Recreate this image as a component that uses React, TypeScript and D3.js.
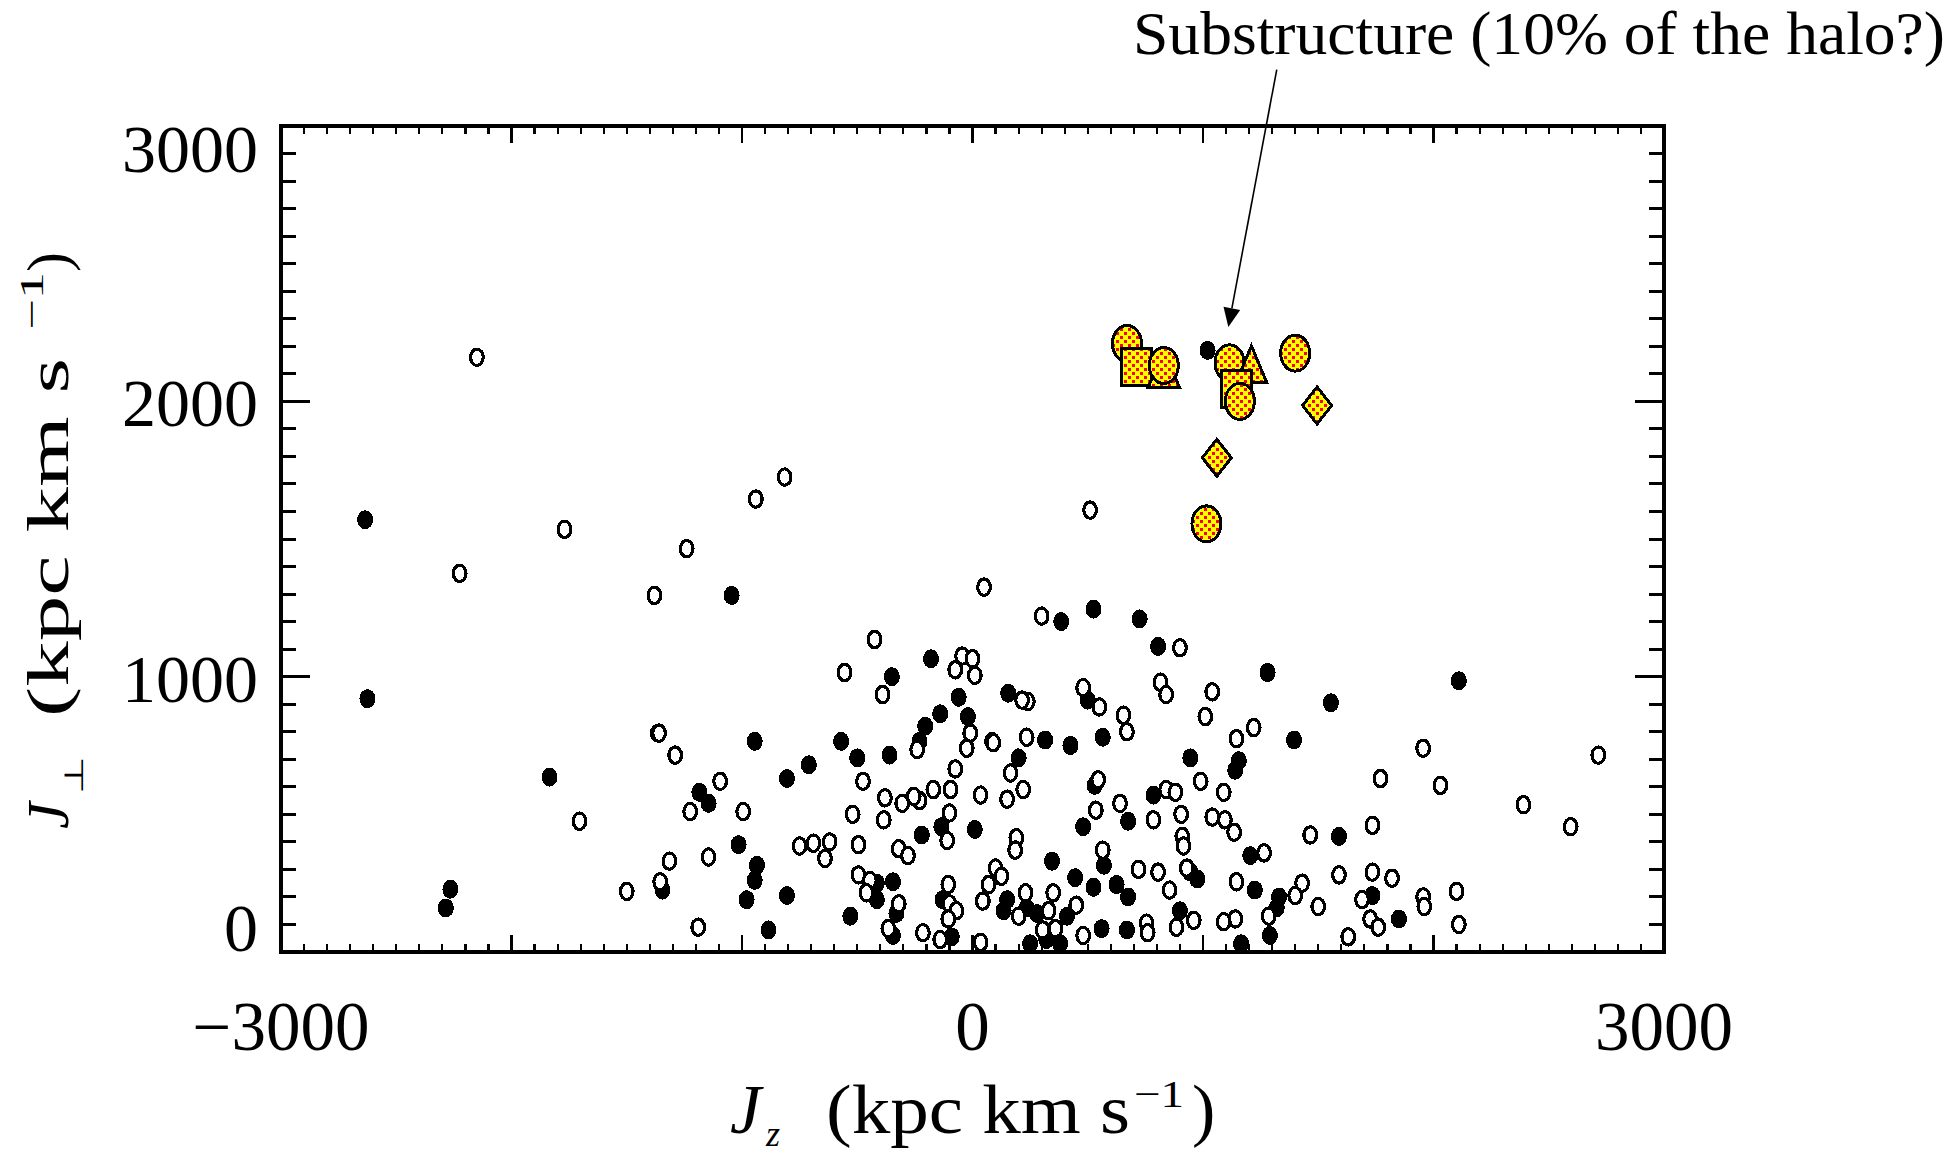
import React from "react";
import * as d3 from "d3";

// Halo stars in angular-momentum space: [Jz, J_perp] in kpc km/s.
// Filled symbols.
const filledStars: [number, number][] = [
  [-1045, 1295], [-2625, 920], [-1365, 795], [-1835, 635], [-1185, 580], [-1145, 540],
  [-1345, 225], [-2265, 228], [-2285, 160], [-2635, 1570], [-1015, 390],
  [385, 1200], [525, 1245], [725, 1210], [805, 1110], [-180, 1065], [-350, 1000],
  [500, 915], [155, 940], [-60, 925], [-20, 855], [-140, 865], [-205, 820], [-230, 765],
  [565, 780], [425, 750], [315, 770], [85, 765], [-945, 765], [-570, 765], [-500, 705],
  [-360, 715], [-710, 680], [-805, 630], [200, 705], [945, 705], [530, 605], [480, 455],
  [675, 475], [785, 570], [-135, 455], [-220, 425], [10, 445], [945, 290], [-935, 315],
  [-945, 260], [-980, 190], [-805, 205], [-415, 250], [-345, 255], [-415, 190], [-330, 140],
  [-530, 130], [-885, 80], [-345, 60], [-130, 190], [-90, 55], [150, 190], [135, 150],
  [235, 160], [280, 140], [410, 130], [345, 330], [445, 270], [525, 235], [570, 315],
  [625, 245], [675, 200], [900, 150], [670, 80], [560, 85], [250, 30], [320, 45], [380, 30],
  [975, 265], [1280, 1015], [2110, 985], [1555, 905], [1395, 770], [1155, 695], [1140, 660],
  [1590, 420], [1205, 350], [1225, 225], [1330, 200], [1320, 160], [1735, 205], [1850, 120],
  [1290, 60], [1165, 30], [1020, 2185],
];

// Open symbols.
const openStars: [number, number][] = [
  [-2150, 2160], [-2225, 1375], [-1770, 1535], [-1240, 1465], [-940, 1645], [-815, 1725],
  [510, 1605], [-1380, 1295], [50, 1325], [-1360, 795], [-1290, 715], [-1095, 620],
  [-1225, 510], [-995, 510], [-1705, 475], [-1315, 330], [-1145, 345], [-1355, 255],
  [-1500, 220], [-1190, 90], [300, 1220], [-425, 1135], [900, 1105], [-45, 1075], [0, 1065],
  [-75, 1025], [10, 1005], [-555, 1015], [-390, 935], [815, 980], [840, 935], [480, 960],
  [550, 890], [240, 910], [215, 915], [-240, 735], [655, 860], [670, 800], [1010, 855],
  [235, 780], [-10, 795], [-25, 740], [90, 760], [-75, 665], [165, 650], [220, 590],
  [150, 555], [35, 570], [-95, 590], [-170, 590], [-230, 550], [-255, 565], [-305, 540],
  [-380, 560], [-475, 620], [-385, 480], [-520, 500], [990, 620], [545, 625], [535, 515],
  [640, 540], [785, 480], [840, 590], [880, 580], [905, 500], [910, 420], [915, 385],
  [930, 305], [-100, 505], [-110, 405], [190, 415], [185, 370], [-495, 390], [-620, 400],
  [-690, 395], [-750, 385], [-640, 340], [-320, 375], [-280, 350], [-495, 280], [-445, 260],
  [-460, 215], [-320, 175], [-365, 85], [-215, 70], [-105, 245], [-100, 175], [-70, 150],
  [-105, 120], [-140, 45], [35, 35], [100, 305], [125, 275], [70, 245], [45, 185], [230, 215],
  [200, 130], [350, 215], [330, 150], [450, 170], [565, 370], [720, 300], [805, 290],
  [855, 225], [960, 115], [885, 90], [755, 105], [760, 70], [480, 60], [305, 80], [360, 85],
  [1040, 945], [1220, 815], [1145, 775], [1955, 740], [2715, 715], [1770, 630], [2030, 605],
  [1090, 580], [2390, 535], [1040, 490], [1095, 480], [1135, 435], [1735, 460], [1465, 425],
  [2595, 455], [1265, 360], [1590, 280], [1735, 290], [1820, 268], [1145, 255], [1430, 250],
  [1400, 205], [1500, 165], [2100, 220], [1955, 200], [1960, 165], [1690, 190], [1140, 120],
  [1090, 110], [1285, 130], [1630, 55], [1725, 120], [1760, 90], [2110, 100],
];

// Substructure members, in drawing order: [Jz, J_perp, symbol].
type Shape = "circle" | "square" | "triangle" | "diamond";
const substructure: [number, number, Shape][] = [
  [670, 2210, "circle"],
  [710, 2125, "square"],
  [830, 2110, "triangle"],
  [830, 2130, "circle"],
  [1115, 2140, "circle"],
  [1210, 2125, "triangle"],
  [1145, 2045, "square"],
  [1160, 2000, "circle"],
  [1400, 2175, "circle"],
  [1495, 1985, "diamond"],
  [1060, 1795, "diamond"],
  [1015, 1555, "circle"],
];

const xDomain: [number, number] = [-3000, 3000];
const yDomain: [number, number] = [0, 3000];
const xTickLabels = [-3000, 0, 3000];
const yTickLabels = [0, 1000, 2000, 3000];

const annotationText = "Substructure (10% of the halo?)";
const arrowFrom: [number, number] = [1320, 3205];
const arrowTo: [number, number] = [1110, 2270];

const SERIF = "'Liberation Serif', 'Times New Roman', serif";

export default function App() {
  const x = d3.scaleLinear().domain(xDomain).range([281, 1664]);
  const y = d3.scaleLinear().domain(yDomain).range([952, 126]);

  const [x0, x1] = x.range();
  const [yb, yt] = y.range();

  const xMinor = d3.range(xDomain[0], xDomain[1] + 1, 100);
  const yMinor = d3.range(yDomain[0], yDomain[1] + 1, 100);

  const fmt = (v: number) => (v < 0 ? "\u2212" + Math.abs(v) : String(v));

  // y labels: the end labels sit inside the frame
  const yLabelCenter = (v: number) =>
    v === yDomain[1] ? y(v) + 23 : v === yDomain[0] ? y(v) - 24 : y(v) + 2;

  const orangeShape = (d: [number, number, Shape], i: number) => {
    const cx = x(d[0]);
    const cy = y(d[1]);
    const common = {
      fill: "url(#redYellowChecker)",
      stroke: "#000",
      strokeWidth: 3,
      shapeRendering: "crispEdges" as const,
    };
    if (d[2] === "circle")
      return <ellipse key={i} cx={cx} cy={cy} rx={14.5} ry={18} {...common} />;
    if (d[2] === "square")
      return <rect key={i} x={cx - 15} y={cy - 18.5} width={30} height={37} {...common} />;
    if (d[2] === "triangle")
      return (
        <polygon
          key={i}
          points={`${cx},${cy - 21} ${cx + 15.5},${cy + 16} ${cx - 15.5},${cy + 16}`}
          {...common}
        />
      );
    return (
      <polygon
        key={i}
        points={`${cx},${cy - 18.5} ${cx + 14.5},${cy} ${cx},${cy + 18.5} ${cx - 14.5},${cy}`}
        {...common}
      />
    );
  };

  // arrow geometry
  const ax0 = x(arrowFrom[0]);
  const ay0 = y(arrowFrom[1]);
  const ax1 = x(arrowTo[0]);
  const ay1 = y(arrowTo[1]);
  const alen = Math.hypot(ax1 - ax0, ay1 - ay0);
  const ux = (ax1 - ax0) / alen;
  const uy = (ay1 - ay0) / alen;
  const headL = 19;
  const headW = 8.5;
  const bx = ax1 - ux * headL;
  const by = ay1 - uy * headL;
  const headPts = `${ax1},${ay1} ${bx - uy * headW},${by + ux * headW} ${bx + uy * headW},${by - ux * headW}`;

  return (
    <div style={{ position: "absolute", left: 0, top: 0, background: "#fff" }}>
      <svg width={1952} height={1154} style={{ display: "block", background: "#fff" }}>
        <defs>
          <pattern id="redYellowChecker" width={8} height={8} patternUnits="userSpaceOnUse">
            <rect width={8} height={8} fill="#ffff00" />
            <rect x={0} y={0} width={3} height={3} fill="#ff0000" />
            <rect x={4} y={4} width={3} height={3} fill="#ff0000" />
          </pattern>
        </defs>

        {/* ticks */}
        <g stroke="#000" shapeRendering="crispEdges">
          {xMinor.map((v) => {
            const major = v % 1000 === 0;
            const len = major ? 17 : 8;
            return (
              <g key={"xt" + v} strokeWidth={2.2}>
                <line x1={x(v)} x2={x(v)} y1={yb} y2={yb - len} />
                <line x1={x(v)} x2={x(v)} y1={yt} y2={yt + len} />
              </g>
            );
          })}
          {yMinor.map((v) => {
            const major = v % 1000 === 0;
            const len = major ? 29 : 15;
            return (
              <g key={"yt" + v} strokeWidth={3}>
                <line x1={x0} x2={x0 + len} y1={y(v)} y2={y(v)} />
                <line x1={x1} x2={x1 - len} y1={y(v)} y2={y(v)} />
              </g>
            );
          })}
        </g>

        {/* frame */}
        <rect
          x={x0}
          y={yt}
          width={x1 - x0}
          height={yb - yt}
          fill="none"
          stroke="#000"
          strokeWidth={4.5}
          shapeRendering="crispEdges"
        />

        {/* tick labels */}
        <g fontFamily={SERIF} fill="#000">
          {xTickLabels.map((v) => (
            <text key={"xl" + v} x={x(v)} y={1050} fontSize={69} textAnchor="middle">
              {fmt(v)}
            </text>
          ))}
          {yTickLabels.map((v) => (
            <text key={"yl" + v} x={258} y={yLabelCenter(v) + 23} fontSize={68} textAnchor="end">
              {fmt(v)}
            </text>
          ))}
        </g>

        {/* halo stars */}
        <g>
          {filledStars.map((d, i) => (
            <ellipse
              key={"f" + i}
              cx={x(d[0])}
              cy={y(d[1])}
              rx={8}
              ry={9.5}
              fill="#000"
              shapeRendering="crispEdges"
            />
          ))}
          {openStars.map((d, i) => (
            <ellipse
              key={"o" + i}
              cx={x(d[0])}
              cy={y(d[1])}
              rx={6.3}
              ry={8.2}
              fill="#fff"
              stroke="#000"
              strokeWidth={3.2}
              shapeRendering="crispEdges"
            />
          ))}
        </g>

        {/* substructure */}
        <g>{substructure.map(orangeShape)}</g>

        {/* annotation */}
        <line x1={ax0} y1={ay0} x2={bx} y2={by} stroke="#000" strokeWidth={1.6} />
        <polygon points={headPts} fill="#000" />
        <text
          x={1133}
          y={54}
          fontFamily={SERIF}
          fontSize={62}
          textLength={812}
          lengthAdjust="spacingAndGlyphs"
          fill="#000"
        >
          {annotationText}
        </text>

        {/* x axis title */}
        <g fontFamily={SERIF} fill="#000">
          <text x={730} y={1133} fontSize={70} fontStyle="italic">J</text>
          <text x={766} y={1146} fontSize={36} fontStyle="italic">z</text>
          <text x={826} y={1133} fontSize={70} textLength={304} lengthAdjust="spacingAndGlyphs">
            (kpc km s
          </text>
          <text x={1134} y={1107} fontSize={38} textLength={50} lengthAdjust="spacingAndGlyphs">
            {"\u22121"}
          </text>
          <text x={1192} y={1133} fontSize={70}>)</text>
        </g>

        {/* y axis title */}
        <g transform="translate(68,0) rotate(-90)" fontFamily={SERIF} fill="#000">
          <text x={-829} y={0} fontSize={60} fontStyle="italic">J</text>
          <text
            transform="translate(-794,15) scale(1,0.6)"
            fontFamily="'DejaVu Sans', sans-serif"
            fontSize={44}
          >
            {"\u22A5"}
          </text>
          <text x={-717} y={0} fontSize={60} textLength={359} lengthAdjust="spacingAndGlyphs">
            (kpc km s
          </text>
          <text x={-330} y={-25} fontSize={34} textLength={58} lengthAdjust="spacingAndGlyphs">
            {"\u22121"}
          </text>
          <text x={-272} y={0} fontSize={60}>)</text>
        </g>
      </svg>
    </div>
  );
}
